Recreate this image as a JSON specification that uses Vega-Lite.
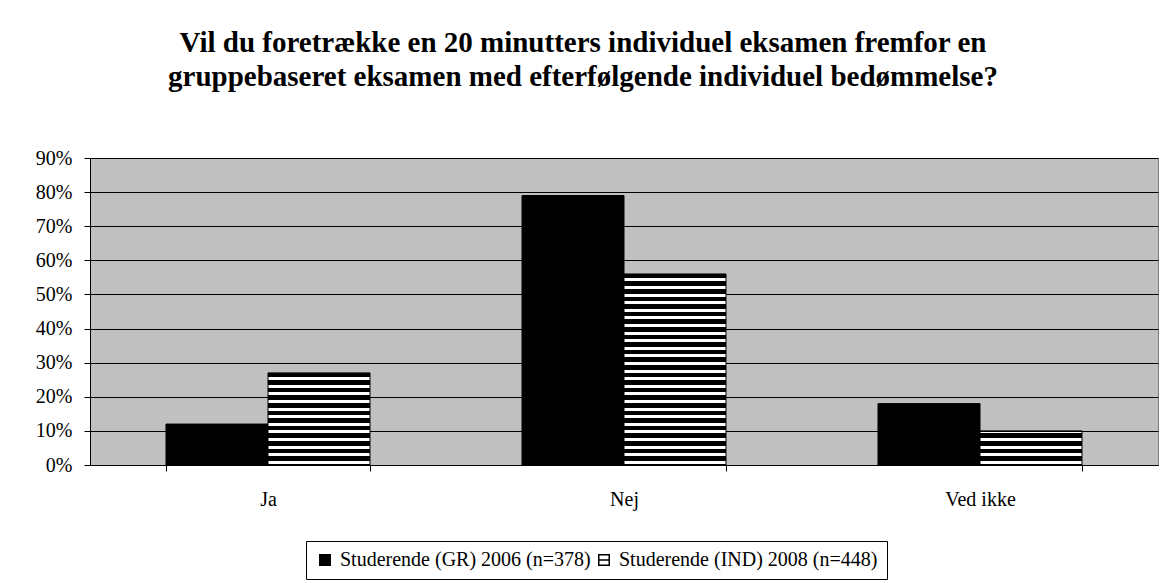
{
  "$schema": "https://vega.github.io/schema/vega-lite/v6.json",
  "autosize": "none",
  "width": 1068,
  "height": 307,
  "padding": {"left": 90, "top": 158, "right": 6, "bottom": 118},
  "background": "white",
  "title": {
    "text": ["Vil du foretrække en 20 minutters individuel eksamen fremfor en", "gruppebaseret eksamen med efterfølgende individuel bedømmelse?"],
    "font": "Liberation Serif",
    "fontSize": 29,
    "fontWeight": "bold",
    "lineHeight": 34,
    "color": "black",
    "anchor": "middle",
    "frame": "group",
    "dx": -41,
    "offset": 56
  },
  "data": {
    "values": [
      {"cat": "Ja", "series": "Studerende (GR) 2006 (n=378)", "value": 0.12},
      {"cat": "Ja", "series": "Studerende (IND) 2008 (n=448)", "value": 0.27},
      {"cat": "Nej", "series": "Studerende (GR) 2006 (n=378)", "value": 0.79},
      {"cat": "Nej", "series": "Studerende (IND) 2008 (n=448)", "value": 0.56},
      {"cat": "Ved ikke", "series": "Studerende (GR) 2006 (n=378)", "value": 0.18},
      {"cat": "Ved ikke", "series": "Studerende (IND) 2008 (n=448)", "value": 0.10}
    ]
  },
  "mark": {"type": "bar", "stroke": "black", "strokeWidth": 1},
  "encoding": {
    "x": {
      "field": "cat",
      "type": "nominal",
      "scale": {"paddingInner": 0.427, "paddingOuter": 0.2135},
      "axis": {
        "title": null,
        "labelAngle": 0,
        "labelFont": "Liberation Serif",
        "labelFontSize": 20,
        "labelColor": "black",
        "labelPadding": 18,
        "tickBand": "extent",
        "tickSize": 6,
        "tickColor": "black",
        "domainColor": "black",
        "domainWidth": 1,
        "grid": false
      }
    },
    "xOffset": {"field": "series", "type": "nominal", "scale": {"paddingInner": 0, "paddingOuter": 0}},
    "y": {
      "field": "value",
      "type": "quantitative",
      "scale": {"domain": [0, 0.9], "nice": false},
      "axis": {
        "title": null,
        "values": [0, 0.1, 0.2, 0.3, 0.4, 0.5, 0.6, 0.7, 0.8, 0.9],
        "format": ".0%",
        "labelFont": "Liberation Serif",
        "labelFontSize": 20,
        "labelColor": "black",
        "labelPadding": 12,
        "tickSize": 6,
        "tickColor": "black",
        "domainColor": "black",
        "grid": true,
        "gridColor": "black",
        "gridWidth": 1,
        "gridOpacity": 1
      }
    },
    "fill": {
      "field": "series",
      "type": "nominal",
      "scale": {"range": ["black", "white"]},
      "condition": [
        {
          "test": "datum.series === 'Studerende (IND) 2008 (n=448)' && datum.cat === 'Ja'",
          "value": {
            "gradient": "linear", "x1": 0, "y1": 0, "x2": 0, "y2": 1,
            "stops": [
              {"offset": 0, "color": "black"},
              {"offset": 0.0467, "color": "black"}, {"offset": 0.0467, "color": "white"}, {"offset": 0.0793, "color": "white"}, {"offset": 0.0793, "color": "black"},
              {"offset": 0.1292, "color": "black"}, {"offset": 0.1292, "color": "white"}, {"offset": 0.1618, "color": "white"}, {"offset": 0.1618, "color": "black"},
              {"offset": 0.2117, "color": "black"}, {"offset": 0.2117, "color": "white"}, {"offset": 0.2443, "color": "white"}, {"offset": 0.2443, "color": "black"},
              {"offset": 0.2942, "color": "black"}, {"offset": 0.2942, "color": "white"}, {"offset": 0.3268, "color": "white"}, {"offset": 0.3268, "color": "black"},
              {"offset": 0.3768, "color": "black"}, {"offset": 0.3768, "color": "white"}, {"offset": 0.4093, "color": "white"}, {"offset": 0.4093, "color": "black"},
              {"offset": 0.4593, "color": "black"}, {"offset": 0.4593, "color": "white"}, {"offset": 0.4919, "color": "white"}, {"offset": 0.4919, "color": "black"},
              {"offset": 0.5418, "color": "black"}, {"offset": 0.5418, "color": "white"}, {"offset": 0.5744, "color": "white"}, {"offset": 0.5744, "color": "black"},
              {"offset": 0.6243, "color": "black"}, {"offset": 0.6243, "color": "white"}, {"offset": 0.6569, "color": "white"}, {"offset": 0.6569, "color": "black"},
              {"offset": 0.7068, "color": "black"}, {"offset": 0.7068, "color": "white"}, {"offset": 0.7394, "color": "white"}, {"offset": 0.7394, "color": "black"},
              {"offset": 0.7894, "color": "black"}, {"offset": 0.7894, "color": "white"}, {"offset": 0.8219, "color": "white"}, {"offset": 0.8219, "color": "black"},
              {"offset": 0.8719, "color": "black"}, {"offset": 0.8719, "color": "white"}, {"offset": 0.9045, "color": "white"}, {"offset": 0.9045, "color": "black"},
              {"offset": 0.9544, "color": "black"}, {"offset": 0.9544, "color": "white"}, {"offset": 0.9870, "color": "white"}, {"offset": 0.9870, "color": "black"},
              {"offset": 1, "color": "black"}
            ]
          }
        },
        {
          "test": "datum.series === 'Studerende (IND) 2008 (n=448)' && datum.cat === 'Nej'",
          "value": {
            "gradient": "linear", "x1": 0, "y1": 0, "x2": 0, "y2": 1,
            "stops": [
              {"offset": 0, "color": "black"},
              {"offset": 0.0231, "color": "black"}, {"offset": 0.0231, "color": "white"}, {"offset": 0.0388, "color": "white"}, {"offset": 0.0388, "color": "black"},
              {"offset": 0.0629, "color": "black"}, {"offset": 0.0629, "color": "white"}, {"offset": 0.0786, "color": "white"}, {"offset": 0.0786, "color": "black"},
              {"offset": 0.1027, "color": "black"}, {"offset": 0.1027, "color": "white"}, {"offset": 0.1184, "color": "white"}, {"offset": 0.1184, "color": "black"},
              {"offset": 0.1425, "color": "black"}, {"offset": 0.1425, "color": "white"}, {"offset": 0.1582, "color": "white"}, {"offset": 0.1582, "color": "black"},
              {"offset": 0.1823, "color": "black"}, {"offset": 0.1823, "color": "white"}, {"offset": 0.1980, "color": "white"}, {"offset": 0.1980, "color": "black"},
              {"offset": 0.2221, "color": "black"}, {"offset": 0.2221, "color": "white"}, {"offset": 0.2378, "color": "white"}, {"offset": 0.2378, "color": "black"},
              {"offset": 0.2619, "color": "black"}, {"offset": 0.2619, "color": "white"}, {"offset": 0.2776, "color": "white"}, {"offset": 0.2776, "color": "black"},
              {"offset": 0.3016, "color": "black"}, {"offset": 0.3016, "color": "white"}, {"offset": 0.3174, "color": "white"}, {"offset": 0.3174, "color": "black"},
              {"offset": 0.3414, "color": "black"}, {"offset": 0.3414, "color": "white"}, {"offset": 0.3571, "color": "white"}, {"offset": 0.3571, "color": "black"},
              {"offset": 0.3812, "color": "black"}, {"offset": 0.3812, "color": "white"}, {"offset": 0.3969, "color": "white"}, {"offset": 0.3969, "color": "black"},
              {"offset": 0.4210, "color": "black"}, {"offset": 0.4210, "color": "white"}, {"offset": 0.4367, "color": "white"}, {"offset": 0.4367, "color": "black"},
              {"offset": 0.4608, "color": "black"}, {"offset": 0.4608, "color": "white"}, {"offset": 0.4765, "color": "white"}, {"offset": 0.4765, "color": "black"},
              {"offset": 0.5006, "color": "black"}, {"offset": 0.5006, "color": "white"}, {"offset": 0.5163, "color": "white"}, {"offset": 0.5163, "color": "black"},
              {"offset": 0.5404, "color": "black"}, {"offset": 0.5404, "color": "white"}, {"offset": 0.5561, "color": "white"}, {"offset": 0.5561, "color": "black"},
              {"offset": 0.5801, "color": "black"}, {"offset": 0.5801, "color": "white"}, {"offset": 0.5959, "color": "white"}, {"offset": 0.5959, "color": "black"},
              {"offset": 0.6199, "color": "black"}, {"offset": 0.6199, "color": "white"}, {"offset": 0.6356, "color": "white"}, {"offset": 0.6356, "color": "black"},
              {"offset": 0.6597, "color": "black"}, {"offset": 0.6597, "color": "white"}, {"offset": 0.6754, "color": "white"}, {"offset": 0.6754, "color": "black"},
              {"offset": 0.6995, "color": "black"}, {"offset": 0.6995, "color": "white"}, {"offset": 0.7152, "color": "white"}, {"offset": 0.7152, "color": "black"},
              {"offset": 0.7393, "color": "black"}, {"offset": 0.7393, "color": "white"}, {"offset": 0.7550, "color": "white"}, {"offset": 0.7550, "color": "black"},
              {"offset": 0.7791, "color": "black"}, {"offset": 0.7791, "color": "white"}, {"offset": 0.7948, "color": "white"}, {"offset": 0.7948, "color": "black"},
              {"offset": 0.8189, "color": "black"}, {"offset": 0.8189, "color": "white"}, {"offset": 0.8346, "color": "white"}, {"offset": 0.8346, "color": "black"},
              {"offset": 0.8587, "color": "black"}, {"offset": 0.8587, "color": "white"}, {"offset": 0.8744, "color": "white"}, {"offset": 0.8744, "color": "black"},
              {"offset": 0.8984, "color": "black"}, {"offset": 0.8984, "color": "white"}, {"offset": 0.9142, "color": "white"}, {"offset": 0.9142, "color": "black"},
              {"offset": 0.9382, "color": "black"}, {"offset": 0.9382, "color": "white"}, {"offset": 0.9539, "color": "white"}, {"offset": 0.9539, "color": "black"},
              {"offset": 0.9780, "color": "black"}, {"offset": 0.9780, "color": "white"}, {"offset": 0.9937, "color": "white"}, {"offset": 0.9937, "color": "black"},
              {"offset": 1, "color": "black"}
            ]
          }
        },
        {
          "test": "datum.series === 'Studerende (IND) 2008 (n=448)' && datum.cat === 'Ved ikke'",
          "value": {
            "gradient": "linear", "x1": 0, "y1": 0, "x2": 0, "y2": 1,
            "stops": [
              {"offset": 0, "color": "black"},
              {"offset": 0.0293, "color": "black"}, {"offset": 0.0293, "color": "white"}, {"offset": 0.0762, "color": "white"}, {"offset": 0.0762, "color": "black"},
              {"offset": 0.2084, "color": "black"}, {"offset": 0.2084, "color": "white"}, {"offset": 0.2964, "color": "white"}, {"offset": 0.2964, "color": "black"},
              {"offset": 0.4313, "color": "black"}, {"offset": 0.4313, "color": "white"}, {"offset": 0.5192, "color": "white"}, {"offset": 0.5192, "color": "black"},
              {"offset": 0.6541, "color": "black"}, {"offset": 0.6541, "color": "white"}, {"offset": 0.7420, "color": "white"}, {"offset": 0.7420, "color": "black"},
              {"offset": 0.8769, "color": "black"}, {"offset": 0.8769, "color": "white"}, {"offset": 0.9648, "color": "white"}, {"offset": 0.9648, "color": "black"},
              {"offset": 1, "color": "black"}
            ]
          }
        }
      ],
      "legend": {
        "title": null,
        "orient": "none",
        "legendX": 216,
        "legendY": 383,
        "direction": "horizontal",
        "strokeColor": "black",
        "fillColor": "white",
        "padding": 9,
        "symbolType": "M-1,-1H1V1H-1ZM-1,0H1",
        "symbolSize": 110,
        "symbolStrokeColor": "black",
        "symbolStrokeWidth": 1.5,
        "symbolOpacity": 1,
        "labelFont": "Liberation Serif",
        "labelFontSize": 20,
        "labelColor": "black",
        "labelLimit": 400,
        "labelOffset": 5,
        "columnPadding": 3
      }
    }
  },
  "config": {
    "font": "Liberation Serif",
    "view": {"fill": "#C0C0C0", "stroke": "#808080", "strokeWidth": 1}
  }
}
